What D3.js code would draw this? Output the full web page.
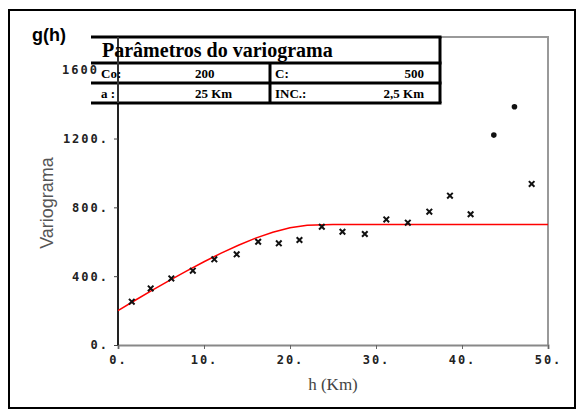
<!DOCTYPE html>
<html>
<head>
<meta charset="utf-8">
<script src="https://cdn.jsdelivr.net/npm/d3@7"></script>
<style>
  body { margin: 0; background: #fff; }
  svg { display: block; }
</style>
</head>
<body>
<div id="container"></div>
<script>
/* DATA */
const lagH = [1.6, 3.8, 6.2, 8.7, 11.2, 13.8, 16.3, 18.7, 21.1, 23.7, 26.1, 28.7, 31.2, 33.7, 36.2, 38.6, 41.0, 43.7, 46.1, 48.1];
const gamma = [252, 329, 387, 432, 498, 527, 600, 591, 610, 687, 658, 645, 730, 711, 775, 868, 760, 1220, 1385, 936];
const dotPoints = [17, 18]; // indexes drawn as round dots
const modelH = [0, 2, 4, 6, 8, 10, 12, 14, 16, 18, 20, 22, 25, 50];
const modelG = [200, 260, 319, 376, 431, 484, 534, 580, 621, 655, 681, 696, 700, 700];
const xTicks = [0, 10, 20, 30, 40, 50];
const yTicks = [0, 400, 800, 1200, 1600];
const tableRows = [["Co:", "200", "C:", "500"], ["a :", "25 Km", "INC.:", "2,5 Km"]];

/* SIZE */
const W = 582, H = 414;
const plot = {left: 118, right: 548, top: 37, bottom: 345};

const svg = d3.select("#container").append("svg")
    .attr("width", W)
    .attr("height", H);

/* OUTER FRAME */
svg.append("rect")
    .attr("x", 9).attr("y", 10)
    .attr("width", 566).attr("height", 398)
    .attr("fill", "none").attr("stroke", "#000").attr("stroke-width", 2);

/* SCALES */
const x = d3.scaleLinear().domain([0, 50]).range([plot.left, plot.right]);
const y = d3.scaleLinear().domain([0, 1790]).range([plot.bottom, plot.top]);

/* PLOT BOX (top and right, grey) */
svg.append("path")
    .attr("d", `M${plot.left},${plot.top}H${plot.right}V${plot.bottom}`)
    .attr("fill", "none").attr("stroke", "#999").attr("stroke-width", 2);

/* AXES */
const tickFont = "'DejaVu Sans Mono', monospace";

const xAxis = svg.append("g")
    .attr("transform", "translate(0," + plot.bottom + ")")
    .call(d3.axisBottom(x).tickValues(xTicks).tickSize(4).tickFormat(d => d + "."));
xAxis.select(".domain").attr("stroke", "#888").attr("stroke-width", 2);
xAxis.selectAll(".tick line").attr("stroke", "#666");
xAxis.selectAll("text")
    .attr("y", 10)
    .style("font-family", tickFont).style("font-weight", "bold")
    .style("font-size", "12px").style("letter-spacing", "2px").attr("fill", "#222");

const yAxis = svg.append("g")
    .attr("transform", "translate(" + plot.left + ",0)")
    .call(d3.axisLeft(y).tickValues(yTicks).tickSize(4).tickFormat(d => d + "."));
yAxis.select(".domain").attr("stroke", "#222").attr("stroke-width", 2)
    .attr("d", `M0,${plot.top}V${plot.bottom}`);
yAxis.selectAll(".tick line").attr("stroke", "#444");
yAxis.selectAll("text")
    .attr("x", -9)
    .style("font-family", tickFont).style("font-weight", "bold")
    .style("font-size", "12px").style("letter-spacing", "2px").attr("fill", "#222");
// top label: its dot is hidden under the table in the original
yAxis.selectAll("text").filter(d => d === 1600)
    .attr("x", -19)
    .text("1600");

/* AXIS LABELS */
svg.append("text")
    .attr("x", 333).attr("y", 390)
    .style("text-anchor", "middle")
    .style("font-family", "'Liberation Serif', serif")
    .style("font-size", "17px").attr("fill", "#444")
    .text("h (Km)");

svg.append("text")
    .attr("transform", "translate(53,203) rotate(-90)")
    .style("text-anchor", "middle")
    .style("font-family", "'Liberation Sans', sans-serif")
    .style("font-size", "18px").attr("fill", "#555")
    .text("Variograma");

svg.append("text")
    .attr("x", 32).attr("y", 41)
    .style("font-family", "'Liberation Sans', sans-serif")
    .style("font-weight", "bold").style("font-size", "18px")
    .text("g(h)");

/* MODEL LINE */
const line = d3.line()
    .x((d, i) => x(modelH[i]))
    .y(d => y(d));
svg.append("path")
    .datum(modelG)
    .attr("d", line)
    .attr("fill", "none").attr("stroke", "#f00").attr("stroke-width", 1.5);

/* EXPERIMENTAL POINTS */
const pts = svg.append("g");
gamma.forEach((g, i) => {
  if (dotPoints.includes(i)) {
    pts.append("circle")
        .attr("cx", x(lagH[i])).attr("cy", y(g)).attr("r", 2.8)
        .attr("fill", "#111");
  } else {
    pts.append("path")
        .attr("transform", "translate(" + x(lagH[i]) + "," + y(g) + ")")
        .attr("d", d3.symbol(d3.symbolX, 22)())
        .attr("fill", "none").attr("stroke", "#111").attr("stroke-width", 2);
  }
});

/* PARAMETER TABLE */
const tbl = svg.append("g");
const tL = 91, tR = 440, rowY = [37, 63, 83, 103], midX = 270;
tbl.append("rect")
    .attr("x", 100).attr("y", rowY[0]).attr("width", tR - 100).attr("height", rowY[3] - rowY[0])
    .attr("fill", "#fff");
rowY.forEach(r => {
  tbl.append("line")
      .attr("x1", tL).attr("x2", tR + 1.5).attr("y1", r).attr("y2", r)
      .attr("stroke", "#000").attr("stroke-width", 3);
});
tbl.append("line")
    .attr("x1", tR).attr("x2", tR).attr("y1", rowY[0]).attr("y2", rowY[3])
    .attr("stroke", "#000").attr("stroke-width", 3);
tbl.append("line")
    .attr("x1", midX).attr("x2", midX).attr("y1", rowY[1]).attr("y2", rowY[3])
    .attr("stroke", "#000").attr("stroke-width", 3);

// y axis shows through the table
tbl.append("line")
    .attr("x1", plot.left).attr("x2", plot.left).attr("y1", rowY[0]).attr("y2", rowY[3])
    .attr("stroke", "#333").attr("stroke-width", 2);

const serif = "'Liberation Serif', 'Times New Roman', serif";
tbl.append("text")
    .attr("x", 102).attr("y", 57)
    .style("font-family", serif).style("font-weight", "bold").style("font-size", "20px")
    .text("Parâmetros do variograma");

tableRows.forEach((row, i) => {
  const by = rowY[i + 1] + 15;
  const cells = [
    {x: 101, a: "start", t: row[0]},
    {x: 195, a: "start", t: row[1]},
    {x: 275, a: "start", t: row[2]},
    {x: 424, a: "end", t: row[3]}
  ];
  cells.forEach(c => {
    tbl.append("text")
        .attr("x", c.x).attr("y", by)
        .style("text-anchor", c.a)
        .style("font-family", serif).style("font-weight", "bold").style("font-size", "13px")
        .text(c.t);
  });
});
</script>
</body>
</html>
